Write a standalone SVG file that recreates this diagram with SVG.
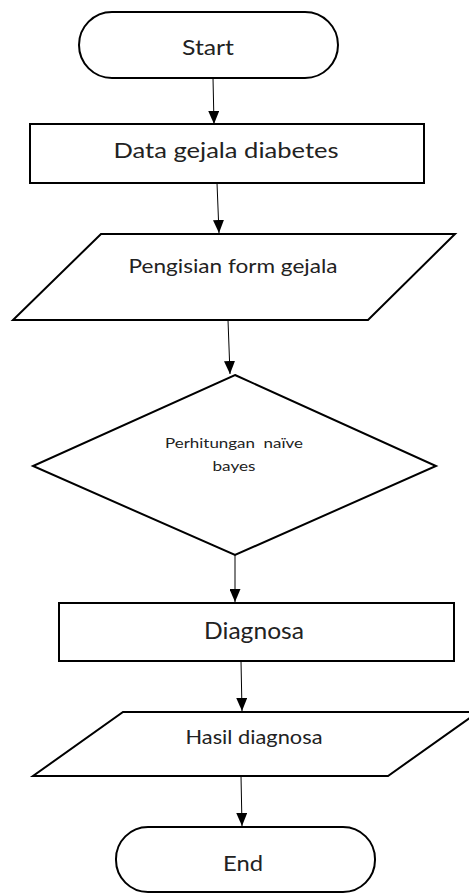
<svg xmlns="http://www.w3.org/2000/svg" width="469" height="893" viewBox="0 0 469 893">
<style>
.s{fill:#fff;stroke:#000;stroke-width:2}
.t{font-family:Lato,"Liberation Sans",sans-serif;fill:#222;text-anchor:middle;white-space:pre}
.c{stroke:#000;stroke-width:1;fill:none;marker-end:url(#a)}
</style>
<defs>
<marker id="a" markerWidth="13" markerHeight="11" refX="13" refY="5.5" orient="auto" markerUnits="userSpaceOnUse" viewBox="0 0 13 11">
<path d="M0,0 L13,5.5 L0,11 Z" fill="#000"/>
</marker>
</defs>
<rect width="469" height="893" fill="#fff"/>
<g id="connectors">
<path class="c" d="M213,78 L214,124"/>
<path class="c" d="M217,183 L219,233"/>
<path class="c" d="M228,320 L230,374"/>
<path class="c" d="M235,555 L235,602"/>
<path class="c" d="M241,661 L242,711"/>
<path class="c" d="M241,776 L242,826"/>
</g>
<g id="start">
<rect class="s" x="79" y="12" width="259" height="66" rx="33" ry="33"/>
<text class="t" x="208" y="55" font-size="21" textLength="52" lengthAdjust="spacingAndGlyphs">Start</text>
</g>
<g id="data">
<rect class="s" x="30" y="124" width="394" height="59"/>
<text class="t" x="226" y="158" font-size="21" textLength="225" lengthAdjust="spacingAndGlyphs">Data gejala diabetes</text>
</g>
<g id="form">
<polygon class="s" points="101,234 455,234 368,320 13,320"/>
<text class="t" x="233" y="273" font-size="19" textLength="209" lengthAdjust="spacingAndGlyphs">Pengisian form gejala</text>
</g>
<g id="naive">
<polygon class="s" points="235,375 436,466 235,555 33,466"/>
<text class="t" x="234" y="448" font-size="14" textLength="138" lengthAdjust="spacingAndGlyphs">Perhitungan  naïve</text>
<text class="t" x="234" y="471" font-size="14" textLength="43" lengthAdjust="spacingAndGlyphs">bayes</text>
</g>
<g id="diagnosa">
<rect class="s" x="59" y="603" width="395" height="58"/>
<text class="t" x="254" y="639" font-size="23" textLength="100" lengthAdjust="spacingAndGlyphs">Diagnosa</text>
</g>
<g id="hasil">
<polygon class="s" points="123,712 478,712 388,776 33,776"/>
<text class="t" x="254" y="744" font-size="20" textLength="137" lengthAdjust="spacingAndGlyphs">Hasil diagnosa</text>
</g>
<g id="end">
<rect class="s" x="116" y="827" width="259" height="65" rx="32" ry="32"/>
<text class="t" x="243" y="871" font-size="22" textLength="40" lengthAdjust="spacingAndGlyphs">End</text>
</g>
</svg>
